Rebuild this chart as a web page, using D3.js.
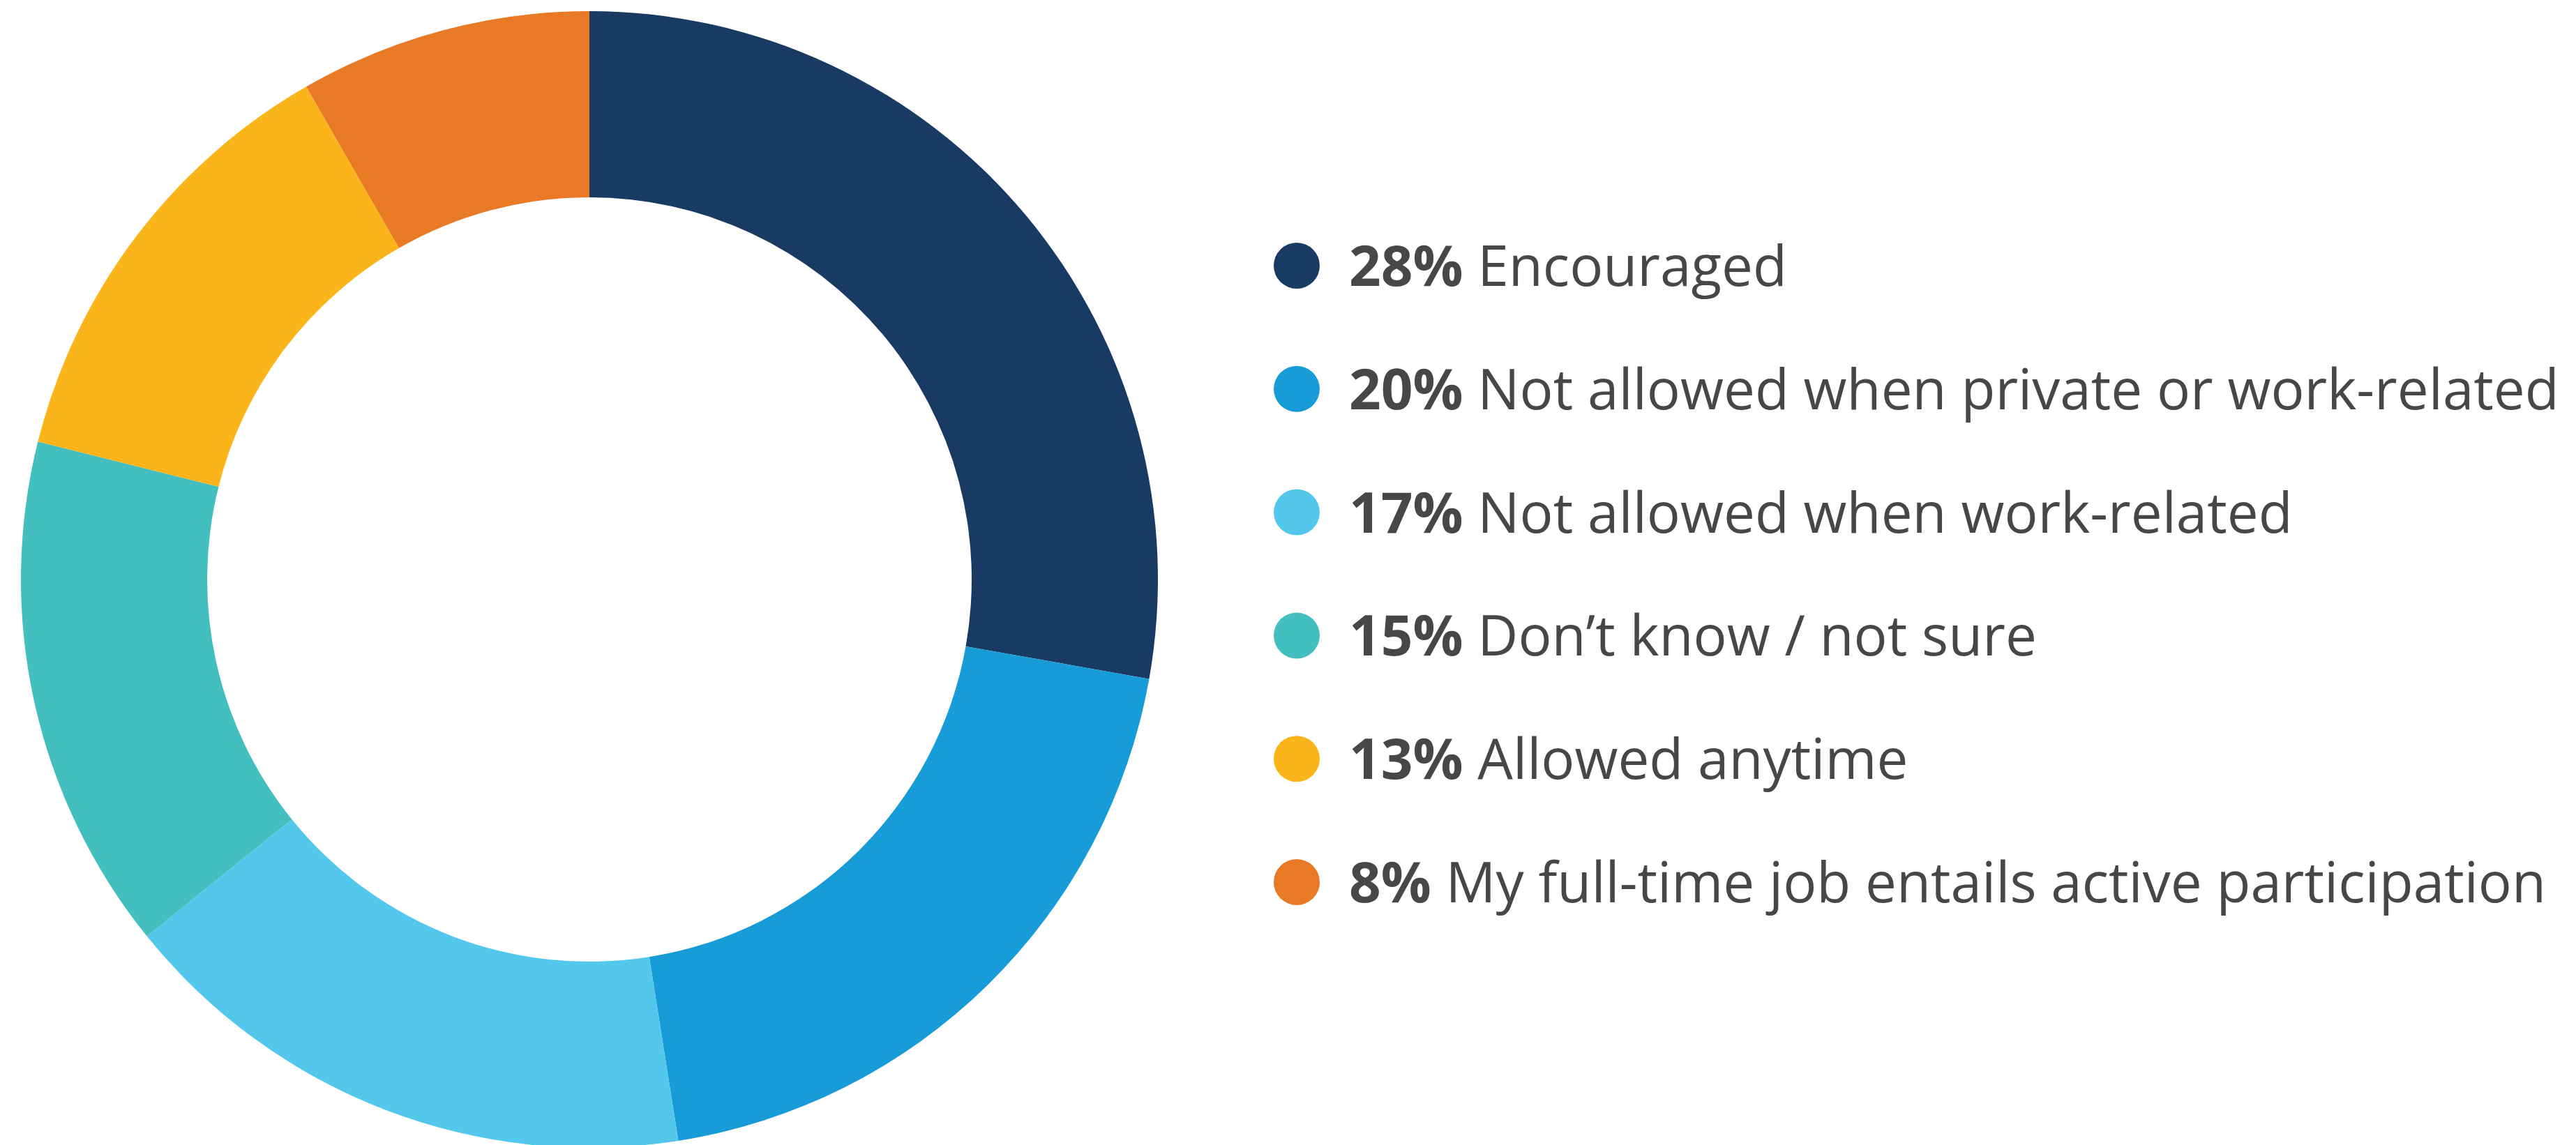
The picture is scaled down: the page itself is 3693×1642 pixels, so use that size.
<!DOCTYPE html>
<html>
<head>
<meta charset="utf-8">
<script src="https://cdn.jsdelivr.net/npm/d3@7"></script>
<style>
  html, body { margin: 0; padding: 0; background: #ffffff; }
  svg { display: block; }
</style>
</head>
<body>
<svg id="chart" width="3693" height="1642"></svg>
<script>
const categories = [
  "Encouraged",
  "Not allowed when private or work-related",
  "Not allowed when work-related",
  "Don\u2019t know / not sure",
  "Allowed anytime",
  "My full-time job entails active participation"
];
// unrounded shares
const values = [27.8, 19.7, 16.7, 14.7, 12.8, 8.3];
// percentages as printed in the legend
const labels = ["28%", "20%", "17%", "15%", "13%", "8%"];
const colors = ["#183a63", "#179cd8", "#53c8ec", "#43bfbf", "#fbb51b", "#e97a25"];

const W = 3693, H = 1642;
const cx = 845, cy = 831;
const outerR = 815, innerR = 548;

const svg = d3.select("#chart");

const pie = d3.pie().sort(null).value(d => d.value);
const arc = d3.arc().innerRadius(innerR).outerRadius(outerR);

const data = categories.map((c, i) => ({ name: c, value: values[i], label: labels[i], color: colors[i] }));

svg.append("g")
  .attr("transform", `translate(${cx},${cy})`)
  .selectAll("path")
  .data(pie(data))
  .join("path")
  .attr("d", arc)
  .attr("fill", d => d.data.color);

// Legend
const legendY = d3.scalePoint()
  .domain(categories)
  .range([381, 1265]);

const lg = svg.append("g");
const rows = lg.selectAll("g.row")
  .data(data)
  .join("g")
  .attr("class", "row")
  .attr("transform", d => `translate(0,${legendY(d.name)})`);

rows.append("circle")
  .attr("cx", 1859)
  .attr("cy", 0)
  .attr("r", 33)
  .attr("fill", d => d.color);

const txt = rows.append("text")
  .attr("x", 1934)
  .attr("y", 29)
  .attr("font-family", "'Open Sans', sans-serif")
  .attr("font-size", 80)
  .attr("fill", "#474747");

txt.append("tspan")
  .attr("font-weight", 700)
  .text(d => d.label);
txt.append("tspan")
  .attr("font-weight", 400)
  .text(d => " " + d.name);
</script>
</body>
</html>
